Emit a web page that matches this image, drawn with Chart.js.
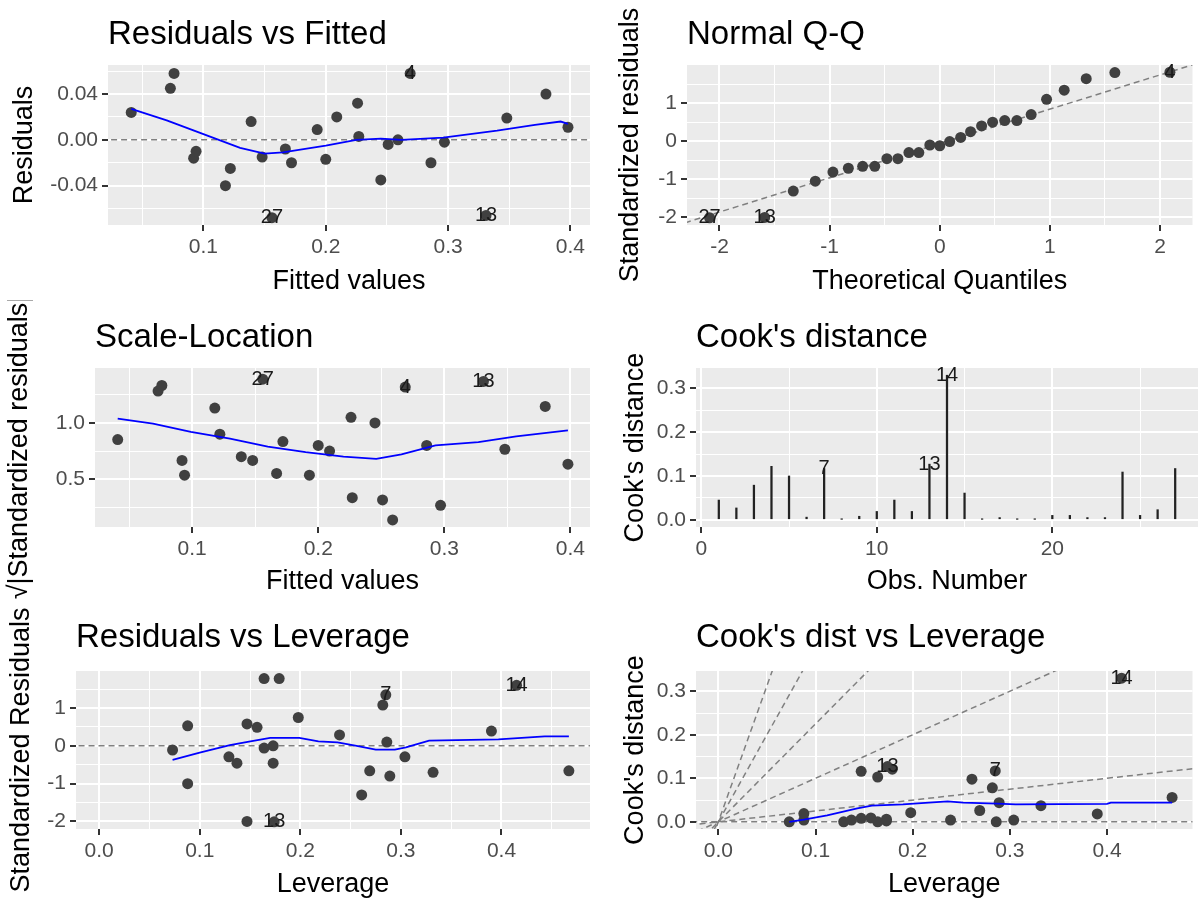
<!DOCTYPE html>
<html>
<head>
<meta charset="utf-8">
<title>Regression diagnostics</title>
<script src="https://cdn.jsdelivr.net/npm/chart.js@4.4.0/dist/chart.umd.min.js"></script>
<style>
    html, body { margin: 0; padding: 0; background: #ffffff; }
    #page { position: relative; width: 1198px; height: 903px; overflow: hidden; }
    #page canvas { position: absolute; }
</style>
</head>
<body>
<div id="page">
    <canvas id="resFitted" width="600" height="300" style="left:0;top:0"></canvas>
    <canvas id="normalQQ" width="598" height="300" style="left:600px;top:0"></canvas>
    <canvas id="scaleLoc" width="600" height="300" style="left:0;top:300px"></canvas>
    <canvas id="cooksDist" width="598" height="300" style="left:600px;top:300px"></canvas>
    <canvas id="resLev" width="600" height="303" style="left:0;top:600px"></canvas>
    <canvas id="cooksLev" width="598" height="303" style="left:600px;top:600px"></canvas>
</div>
<script>
const fitted = [0.041, 0.073, 0.076, 0.092, 0.094, 0.118, 0.122, 0.139, 0.148, 0.156, 0.167, 0.172, 0.193, 0.200,
    0.209, 0.226, 0.227, 0.245, 0.251, 0.259, 0.269, 0.286, 0.297, 0.331, 0.348, 0.380, 0.398];
const residuals = [0.024, 0.045, 0.058, -0.016, -0.010, -0.040, -0.025, 0.016, -0.015, -0.068, -0.008, -0.020, 0.009,
    -0.017, 0.020, 0.032, 0.003, -0.035, -0.004, 0.000, 0.058, -0.020, -0.002, -0.066, 0.019, 0.040, 0.011];
const fittedLabels = ['', '', '', '', '', '', '', '', '', '27', '', '', '', '', '', '', '', '', '', '', '4', '', '', '13', '', '', ''];
const residSmoothX = [0.041, 0.070, 0.100, 0.130, 0.150, 0.165, 0.200, 0.225, 0.245, 0.262, 0.296, 0.340, 0.371, 0.392, 0.398];
const residSmoothY = [0.027, 0.017, 0.005, -0.007, -0.012, -0.011, -0.005, 0.000, 0.001, 0.000, 0.002, 0.008, 0.013, 0.016, 0.014];

// Normal Q-Q
const theoQuantiles = [-2.09, -1.59, -1.33, -1.13, -0.97, -0.83, -0.70, -0.59, -0.48, -0.38, -0.28, -0.19, -0.09, 0.00,
    0.09, 0.19, 0.28, 0.38, 0.48, 0.59, 0.70, 0.83, 0.97, 1.13, 1.33, 1.59, 2.09];
const stdResiduals = [-2.01, -2.00, -1.31, -1.05, -0.81, -0.71, -0.66, -0.66, -0.46, -0.46, -0.30, -0.30, -0.10, -0.12,
    -0.01, 0.10, 0.25, 0.40, 0.50, 0.54, 0.54, 0.70, 1.10, 1.34, 1.64, 1.80, 1.81];
const qqLabels = ['27', '13', '', '', '', '', '', '', '', '', '', '', '', '', '', '', '', '', '', '', '', '', '', '', '', '', '4'];
const qqLineX = [-2.4, 2.4];
const qqLineY = [-2.22, 2.10];

// Scale-Location (x = fitted)
const sqrtStdResid = [0.852, 1.284, 1.334, 0.666, 0.535, 1.133, 0.900, 0.700, 0.666, 1.390, 0.550, 0.834, 0.535, 0.800,
    0.750, 1.050, 0.334, 1.000, 0.314, 0.136, 1.320, 0.800, 0.266, 1.370, 0.766, 1.148, 0.633];
const scaleSmoothX = [0.041, 0.069, 0.099, 0.130, 0.160, 0.190, 0.220, 0.246, 0.266, 0.293, 0.327, 0.357, 0.398];
const scaleSmoothY = [1.038, 0.994, 0.920, 0.860, 0.790, 0.740, 0.700, 0.680, 0.720, 0.800, 0.830, 0.880, 0.935];

// Cook's distance by observation
const obsNumber = [1, 2, 3, 4, 5, 6, 7, 8, 9, 10, 11, 12, 13, 14, 15, 16, 17, 18, 19, 20, 21, 22, 23, 24, 25, 26, 27];
const cooksDistance = [0.045, 0.027, 0.079, 0.122, 0.100, 0.006, 0.117, 0.001, 0.008, 0.019, 0.045, 0.019, 0.127, 0.330,
    0.061, 0.001, 0.005, 0.001, 0.001, 0.010, 0.010, 0.005, 0.005, 0.109, 0.010, 0.023, 0.117];
const cooksLabels = ['', '', '', '', '', '', '7', '', '', '', '', '', '13', '14', '', '', '', '', '', '', '', '', '', '', '', '', ''];

// Leverage (observations sorted by leverage)
const leverage = [0.073, 0.088, 0.088, 0.129, 0.137, 0.147, 0.147, 0.157, 0.164, 0.164, 0.173, 0.173, 0.174, 0.179,
    0.198, 0.239, 0.261, 0.269, 0.282, 0.285, 0.286, 0.289, 0.304, 0.332, 0.390, 0.415, 0.467];
const stdResidLev = [-0.11, 0.53, -1.00, -0.29, -0.46, -2.00, 0.58, 0.49, 1.78, -0.06, 0.00, -0.46, -2.01, 1.78,
    0.75, 0.29, -1.30, -0.66, 1.08, 1.35, 0.10, -0.80, -0.29, -0.70, 0.39, 1.60, -0.66];
const cooksByLev = [0.000, 0.004, 0.019, 0.000, 0.004, 0.116, 0.008, 0.009, 0.103, 0.000, 0.002, 0.006, 0.127, 0.121,
    0.021, 0.004, 0.098, 0.026, 0.078, 0.117, 0.000, 0.044, 0.004, 0.037, 0.018, 0.330, 0.056];
const levLabels = ['', '', '', '', '', '', '', '', '', '', '', '', '13', '', '', '', '', '', '', '7', '', '', '', '', '', '14', ''];
const resLevSmoothX = [0.073, 0.100, 0.130, 0.149, 0.170, 0.199, 0.218, 0.237, 0.256, 0.275, 0.294, 0.305, 0.328, 0.397, 0.443, 0.467];
const resLevSmoothY = [-0.37, -0.18, 0.02, 0.11, 0.21, 0.21, 0.12, 0.09, 0.00, -0.10, -0.10, -0.04, 0.14, 0.17, 0.25, 0.25];
const cookLevSmoothX = [0.073, 0.088, 0.112, 0.143, 0.158, 0.190, 0.209, 0.236, 0.252, 0.287, 0.306, 0.400, 0.404, 0.467];
const cookLevSmoothY = [0.000, 0.005, 0.015, 0.031, 0.037, 0.040, 0.043, 0.047, 0.044, 0.042, 0.040, 0.041, 0.044, 0.044];
const cookContourSlopes = [0.25, 1, 2.25, 4, 6.25];

// tick breaks (major are labelled, minor are just grid lines)
const fittedMajor = [0.1, 0.2, 0.3, 0.4];
const fittedMinor = [0.05, 0.15, 0.25, 0.35];
const residMajor = [-0.04, 0, 0.04];
const residMinor = [-0.06, -0.02, 0.02, 0.06];
const qqXMajor = [-2, -1, 0, 1, 2];
const stdMajor = [-2, -1, 0, 1];
const halfMinor = [-1.5, -0.5, 0.5, 1.5];
const scaleMajor = [0.5, 1.0];
const scaleMinor = [0.25, 0.75, 1.25];
const obsMajor = [0, 10, 20];
const obsMinor = [5, 15, 25];
const cookMajor = [0, 0.1, 0.2, 0.3];
const cookMinor = [0.05, 0.15, 0.25];
const levMajor = [0, 0.1, 0.2, 0.3, 0.4];
const levMinor = [0.05, 0.15, 0.25, 0.35, 0.45];

// ---- styling helpers ----
const FONT = "'Liberation Sans', Arial, sans-serif";
const pairs = (xs, ys) => xs.map((x, i) => ({ x: x, y: ys[i] }));

const pointSet = (xs, ys) => ({
    data: pairs(xs, ys), pointRadius: 5.5, pointHoverRadius: 5.5,
    backgroundColor: '#404040', borderWidth: 0, order: 2,
});
const smoothSet = (xs, ys) => ({
    data: pairs(xs, ys), showLine: true, borderColor: '#0000FF', borderWidth: 1.8,
    pointRadius: 0, order: 1,
});
const guideSet = (xs, ys) => ({
    data: pairs(xs, ys), showLine: true, borderColor: '#808080', borderWidth: 1.5,
    borderDash: [6, 4], pointRadius: 0, order: 3,
});

// grey panel behind the grid
const panelBg = {
    id: 'panelBg',
    beforeDraw(chart) {
        const { ctx, chartArea: a } = chart;
        ctx.save();
        ctx.fillStyle = '#EBEBEB';
        ctx.fillRect(a.left, a.top, a.right - a.left, a.bottom - a.top);
        ctx.restore();
    },
};

// observation numbers written on top of the flagged points
const obsLabels = {
    id: 'obsLabels',
    afterDatasetsDraw(chart, args, opts) {
        if (!opts.labels) return;
        const pts = chart.data.datasets[0].data;
        const { ctx, scales } = chart;
        ctx.save();
        ctx.font = '20px ' + FONT;
        ctx.fillStyle = '#1A1A1A';
        ctx.textAlign = 'center';
        ctx.textBaseline = 'middle';
        opts.labels.forEach((txt, i) => {
            if (!txt) return;
            ctx.fillText(txt, scales.x.getPixelForValue(pts[i].x), scales.y.getPixelForValue(pts[i].y));
        });
        ctx.restore();
    },
};

Chart.register(panelBg, obsLabels);

function axis(pos, range, major, minor, digits, title, size, titlePad) {
    const all = major.concat(minor).sort((a, b) => a - b);
    const isMajor = (v) => major.some((m) => Math.abs(m - v) < 1e-9);
    return {
        type: 'linear',
        position: pos,
        min: range[0],
        max: range[1],
        bounds: 'data',
        offset: false,
        afterBuildTicks: (scale) => {
            scale.ticks = all.map((v) => ({ value: v }));
        },
        afterFit: (scale) => {
            if (pos === 'left') scale.width = size;
            else scale.height = size;
        },
        border: { display: false },
        grid: {
            offset: false,
            color: '#FFFFFF',
            lineWidth: (ctx) => (ctx.tick && isMajor(ctx.tick.value) ? 2 : 1),
            tickColor: (ctx) => (ctx.tick && isMajor(ctx.tick.value) ? '#333333' : 'rgba(0,0,0,0)'),
            tickLength: 6,
            tickWidth: 2,
        },
        ticks: {
            autoSkip: false,
            maxRotation: 0,
            padding: 4,
            color: '#4D4D4D',
            font: { family: FONT, size: 21 },
            callback: (v) => (isMajor(v) ? v.toFixed(digits) : ''),
        },
        title: {
            display: true, text: title, color: '#000000',
            font: { family: FONT, size: 27 }, padding: titlePad,
        },
    };
}

function panel(id, o) {
    return new Chart(document.getElementById(id), {
        type: o.type || 'scatter',
        data: { datasets: o.datasets },
        options: {
            responsive: false,
            animation: false,
            devicePixelRatio: 1,
            layout: { padding: { left: 0, right: o.padRight, top: 0, bottom: 0 } },
            plugins: {
                legend: { display: false },
                tooltip: { enabled: false },
                title: {
                    display: true, text: o.title, align: 'start', fullSize: false, color: '#000000',
                    font: { family: FONT, size: 33, weight: 'normal' }, padding: o.titlePad,
                },
                obsLabels: { labels: o.labels },
            },
            scales: { x: o.x, y: o.y },
        },
    });
}

const xTitlePad = { top: 0, bottom: 1.8 };

// Residuals vs Fitted
panel('resFitted', {
    title: 'Residuals vs Fitted',
    titlePad: { top: 15.2, bottom: 10.2 },
    padRight: 10,
    labels: fittedLabels,
    datasets: [
        pointSet(fitted, residuals),
        smoothSet(residSmoothX, residSmoothY),
        guideSet([0, 0.5], [0, 0]),
    ],
    x: axis('bottom', [0.022, 0.416], fittedMajor, fittedMinor, 1, 'Fitted values', 75, xTitlePad),
    y: axis('left', [-0.0744, 0.0654], residMajor, residMinor, 2, 'Residuals', 108, { top: 8.8, bottom: 0 }),
});

// Normal Q-Q
panel('normalQQ', {
    title: 'Normal Q-Q',
    titlePad: { top: 15.2, bottom: 10.2 },
    padRight: 0,
    labels: qqLabels,
    datasets: [
        pointSet(theoQuantiles, stdResiduals),
        guideSet(qqLineX, qqLineY),
    ],
    x: axis('bottom', [-2.295, 2.295], qqXMajor, halfMinor, 0, 'Theoretical Quantiles', 75, xTitlePad),
    y: axis('left', [-2.2, 2.0], stdMajor, halfMinor, 0, 'Standardized residuals', 87, { top: 14.8, bottom: 0 }),
});

// Scale-Location
panel('scaleLoc', {
    title: 'Scale-Location',
    titlePad: { top: 18.2, bottom: 10.2 },
    padRight: 10,
    labels: fittedLabels,
    datasets: [
        pointSet(fitted, sqrtStdResid),
        smoothSet(scaleSmoothX, scaleSmoothY),
    ],
    x: axis('bottom', [0.023, 0.4155], fittedMajor, fittedMinor, 1, 'Fitted values', 73, xTitlePad),
    y: axis('left', [0.073, 1.49], scaleMajor, scaleMinor, 1, '\u221A|Standardized residuals|', 95, { top: 3.8, bottom: 0 }),
});

// Cook's distance
panel('cooksDist', {
    type: 'bar',
    title: "Cook's distance",
    titlePad: { top: 18.2, bottom: 10.2 },
    padRight: 0,
    labels: cooksLabels,
    datasets: [{
        data: pairs(obsNumber, cooksDistance),
        backgroundColor: '#222222',
        borderWidth: 0,
        barThickness: 1.6,
    }],
    x: axis('bottom', [-0.3, 28.3], obsMajor, obsMinor, 0, 'Obs. Number', 73, xTitlePad),
    y: axis('left', [-0.0165, 0.3465], cookMajor, cookMinor, 1, "Cook's distance", 96, { top: 19.8, bottom: 0 }),
});

// Residuals vs Leverage
panel('resLev', {
    title: 'Residuals vs Leverage',
    titlePad: { top: 18.2, bottom: 13.2 },
    padRight: 10,
    labels: levLabels,
    datasets: [
        pointSet(leverage, stdResidLev),
        smoothSet(resLevSmoothX, resLevSmoothY),
        guideSet([-0.1, 0.6], [0, 0]),
    ],
    x: axis('bottom', [-0.023, 0.488], levMajor, levMinor, 1, 'Leverage', 74, xTitlePad),
    y: axis('left', [-2.2, 1.98], stdMajor, halfMinor, 0, 'Standardized Residuals', 76, { top: 5.8, bottom: 0 }),
});

// Cook's dist vs Leverage, with dashed contours through the origin
const contourX = [-0.05, 0.6];
panel('cooksLev', {
    title: "Cook's dist vs Leverage",
    titlePad: { top: 18.2, bottom: 13.2 },
    padRight: 0,
    labels: levLabels,
    datasets: [
        pointSet(leverage, cooksByLev),
        smoothSet(cookLevSmoothX, cookLevSmoothY),
        guideSet([-0.1, 0.6], [0, 0]),
    ].concat(cookContourSlopes.map((s) => guideSet(contourX, contourX.map((x) => s * x)))),
    x: axis('bottom', [-0.023, 0.488], levMajor, levMinor, 1, 'Leverage', 74, xTitlePad),
    y: axis('left', [-0.0165, 0.3465], cookMajor, cookMinor, 1, "Cook's distance", 96, { top: 19.8, bottom: 0 }),
});
</script>
</body>
</html>
